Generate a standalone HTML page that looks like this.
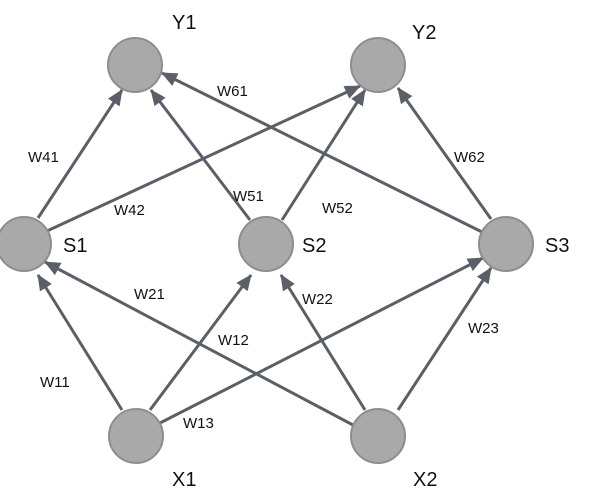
<!DOCTYPE html>
<html><head><meta charset="utf-8"><style>
html,body{margin:0;padding:0;background:#fff;}
svg{display:block;}
text{font-family:"Liberation Sans",sans-serif;fill:#111;}
</style></head><body>
<svg width="604" height="500" viewBox="0 0 604 500">
<defs>
<marker id="a" markerWidth="10" markerHeight="10" refX="9" refY="5" orient="auto" markerUnits="userSpaceOnUse" viewBox="0 0 10 10">
<path d="M0,0 L10,5 L0,10 z" fill="#5b6068"/>
</marker>
<marker id="b" markerWidth="16" markerHeight="14" refX="15" refY="7" orient="auto" markerUnits="userSpaceOnUse" viewBox="0 0 16 14">
<path d="M0,0 L16,7 L0,14 z" fill="#5b6068"/>
</marker>
</defs>
<g stroke="#5b6068" stroke-width="3" fill="none" marker-end="url(#b)">
<!-- X1 -> S1,S2,S3 -->
<line x1="122" y1="410" x2="38" y2="275"/>
<line x1="150" y1="410" x2="251" y2="275"/>
<line x1="160" y1="423" x2="483" y2="258"/>
<!-- X2 -> S1,S2,S3 -->
<line x1="353" y1="425" x2="45" y2="262"/>
<line x1="365" y1="410" x2="281" y2="275"/>
<line x1="398" y1="410" x2="491" y2="268"/>
<!-- S1 -> Y1,Y2 -->
<line x1="38" y1="218" x2="122" y2="90"/>
<line x1="47" y1="231" x2="360" y2="86"/>
<!-- S2 -> Y1,Y2 -->
<line x1="250" y1="220" x2="151" y2="90"/>
<line x1="282" y1="220" x2="365" y2="90"/>
<!-- S3 -> Y1,Y2 -->
<line x1="482" y1="232" x2="162" y2="73"/>
<line x1="491" y1="219" x2="398" y2="88"/>
</g>
<g fill="#a9a9a9" stroke="#8e8e8e" stroke-width="2">
<circle cx="135" cy="65" r="27"/>
<circle cx="378" cy="65" r="27"/>
<circle cx="24" cy="244" r="27"/>
<circle cx="266" cy="244" r="27"/>
<circle cx="506" cy="244" r="27"/>
<circle cx="136" cy="436" r="27"/>
<circle cx="378" cy="436" r="27"/>
</g>
<g font-size="20">
<text x="172" y="29">Y1</text>
<text x="412" y="39">Y2</text>
<text x="63" y="252">S1</text>
<text x="302" y="252">S2</text>
<text x="545" y="252">S3</text>
<text x="172" y="486">X1</text>
<text x="413" y="486">X2</text>
</g>
<g font-size="15">
<text x="217" y="96">W61</text>
<text x="28" y="162">W41</text>
<text x="454" y="162">W62</text>
<text x="233" y="201">W51</text>
<text x="114" y="215">W42</text>
<text x="322" y="213">W52</text>
<text x="134" y="299">W21</text>
<text x="302" y="304">W22</text>
<text x="218" y="345">W12</text>
<text x="468" y="333">W23</text>
<text x="40" y="387">W11</text>
<text x="183" y="428">W13</text>
</g>
</svg>
</body></html>
